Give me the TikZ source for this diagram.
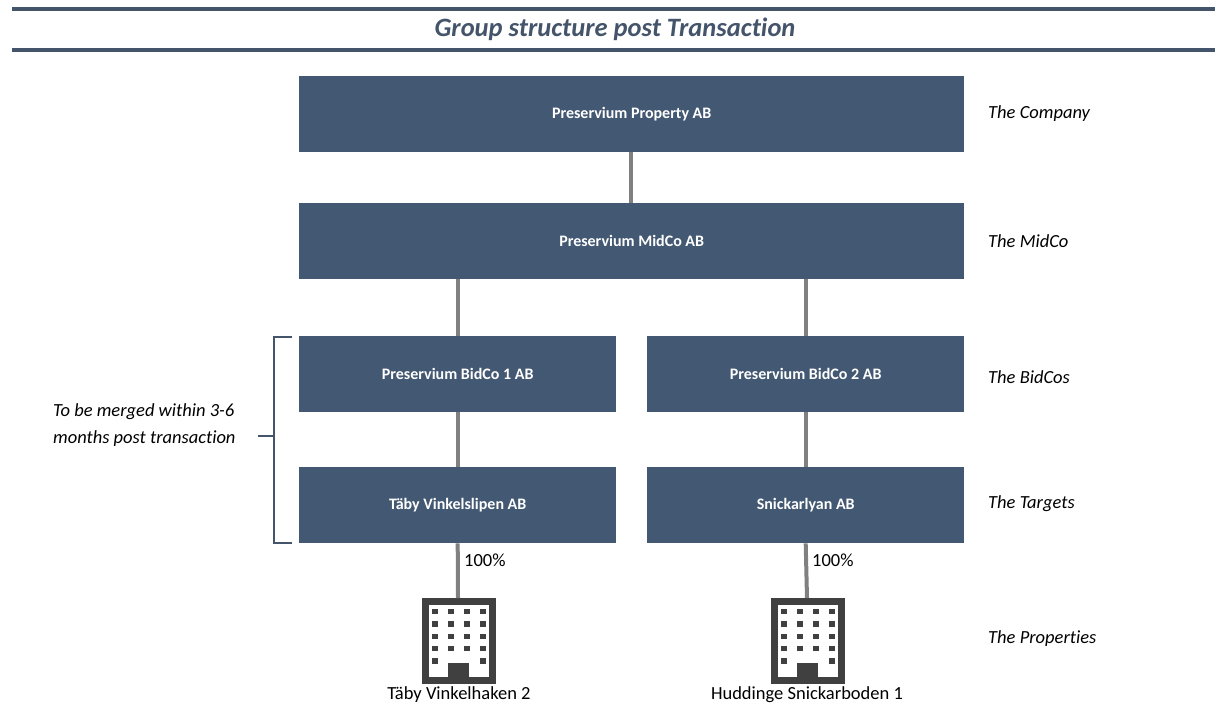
\documentclass[tikz,border=0pt]{standalone}
\usepackage{fontspec}
\setmainfont[Ligatures=NoCommon]{Carlito}
\definecolor{boxblue}{HTML}{435872}
\definecolor{titleblue}{HTML}{44546A}
\definecolor{linegray}{HTML}{808080}
\definecolor{bldgray}{HTML}{404040}
\begin{document}
\begin{tikzpicture}[x=1pt,y=-1pt,
  entity/.style={fill=boxblue,draw=none,text=white,font=\fontsize{16}{19}\selectfont\bfseries,inner sep=0pt,anchor=north west},
  conn/.style={draw=linegray,line width=4pt},
  rlabel/.style={anchor=west,font=\fontsize{18.5}{22}\selectfont\itshape,inner sep=0pt},
  blabel/.style={font=\fontsize{18.5}{22}\selectfont,inner sep=0pt}]
\useasboundingbox (0,0) rectangle (1215,705);
% header
\fill[titleblue] (12,7) rectangle (1215,11);
\fill[titleblue] (12,48) rectangle (1215,52);
\node[text=titleblue,font=\fontsize{26.5}{30}\selectfont\bfseries\itshape] (title) at (615,29) {Group structure post Transaction};
% boxes
\node[entity,minimum width=665pt,minimum height=76pt] (comp) at (299,76) {Preservium Property AB};
\node[entity,minimum width=665pt,minimum height=76pt] (mid) at (299,203) {Preservium MidCo AB};
\node[entity,minimum width=317pt,minimum height=76pt] (bid1) at (299,336) {Preservium BidCo 1 AB};
\node[entity,minimum width=317pt,minimum height=76pt] (bid2) at (647,336) {Preservium BidCo 2 AB};
\node[entity,minimum width=317pt,minimum height=76pt] (tgt1) at (299,467) {Täby Vinkelslipen AB};
\node[entity,minimum width=317pt,minimum height=76pt] (tgt2) at (647,467) {Snickarlyan AB};
% building icons
\foreach \n/\cx in {bld1/458,bld2/807}{
  \coordinate (\n) at (\cx,598);
  \begin{scope}[shift={(\cx-458,0)}]
    \draw[bldgray,line width=7pt] (425.5,601.5) rectangle (492.5,680);
    \foreach \xx in {432,448,464,480}{
      \foreach \yy in {609,621.3,633.6,646}{
        \fill[bldgray] (\xx,\yy) rectangle ++(5.7,5.2);
      }
    }
    \fill[bldgray] (432,658.3) rectangle ++(5.7,5.2);
    \fill[bldgray] (480,658.3) rectangle ++(5.7,5.2);
    \fill[bldgray] (448,663) rectangle (469,680);
  \end{scope}
}
% connectors
\draw[conn] (comp.south -| 631,0) -- (mid.north -| 631,0);
\draw[conn] (mid.south -| bid1.north) -- (bid1.north);
\draw[conn] (mid.south -| bid2.north) -- (bid2.north);
\draw[conn] (bid1.south) -- (tgt1.north);
\draw[conn] (bid2.south) -- (tgt2.north);
\draw[conn] (tgt1.south) -- (bld1);
\draw[conn] (tgt2.south) -- (bld2);
\node[blabel,anchor=west] (p1) at (464,560) {100\%};
\node[blabel,anchor=west] (p2) at (812,560) {100\%};
\node[blabel] (n1) at (459,695) {Täby Vinkelhaken 2};
\node[blabel] (n2) at (807,695) {Huddinge Snickarboden 1};
% right labels
\node[rlabel] (l1) at (988,114) {The Company};
\node[rlabel] (l2) at (988,241) {The MidCo};
\node[rlabel] (l3) at (988,377) {The BidCos};
\node[rlabel] (l4) at (988,504) {The Targets};
\node[rlabel] (l5) at (988,639) {The Properties};
% bracket
\coordinate (bt) at (292,337);
\coordinate (bb) at (292,543);
\coordinate (bm) at (258,436);
\draw[titleblue,line width=1.5pt] (bt) -- (274,337) -- (274,543) -- (bb);
\draw[titleblue,line width=1.5pt] (274,436) -- (bm);
\node[rlabel,anchor=west,align=left,font=\fontsize{18.5}{27}\selectfont\itshape] (mtext) at (53,425) {To be merged within 3-6\\months post transaction};
\end{tikzpicture}
\end{document}
